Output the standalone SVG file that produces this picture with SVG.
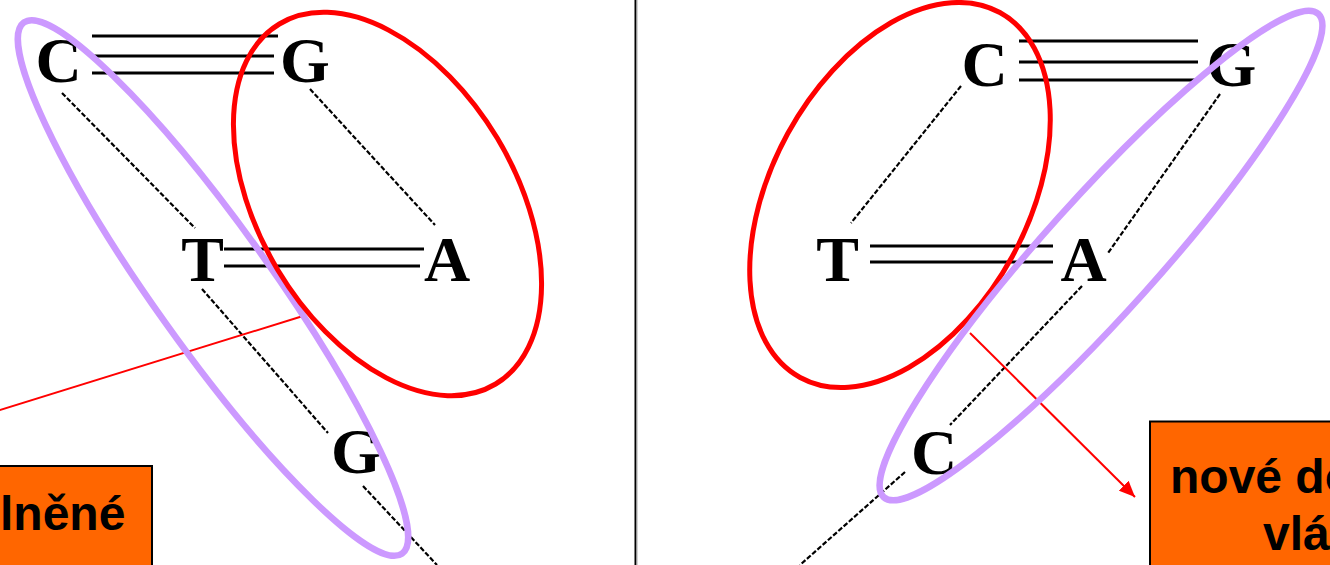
<svg xmlns="http://www.w3.org/2000/svg" width="1330" height="565" viewBox="0 0 1330 565">
<style>
.base{font-family:"Liberation Serif","Times New Roman",serif;font-weight:bold;font-size:64px;fill:#000;text-anchor:middle}
.bond{stroke:#000;stroke-width:3;fill:none}
.back{stroke:#000;stroke-width:2.2;stroke-dasharray:5 2;fill:none}
.pur{fill:none;stroke:#CC99FF;stroke-width:6.5}
.red{fill:none;stroke:#FF0000;stroke-width:5}
.ptr{stroke:#FF0000;stroke-width:2;fill:none}
.box{fill:#FF6600;stroke:#000;stroke-width:2}
.lbl{font-family:"Liberation Sans",Arial,sans-serif;font-weight:bold;font-size:48px;fill:#000}
</style>
<defs>
<marker id="ah" markerUnits="userSpaceOnUse" markerWidth="16" markerHeight="14" refX="16" refY="7" orient="auto">
<path d="M0,0 L16,7 L0,14 z" fill="#FF0000"/>
</marker>
</defs>
<rect x="0" y="0" width="1330" height="565" fill="#ffffff"/>
<g id="divider">
<line x1="635.5" y1="0" x2="635.5" y2="565" stroke="#000" stroke-width="2"/>
<line x1="637" y1="0" x2="637" y2="565" stroke="#aaa" stroke-width="1"/>
</g>
<g id="connectors">
<line class="bond" x1="92" y1="36" x2="278" y2="36"/>
<line class="bond" x1="92" y1="56" x2="274" y2="56"/>
<line class="bond" x1="92" y1="73" x2="274" y2="73"/>
<line class="bond" x1="224" y1="249" x2="424" y2="249"/>
<line class="bond" x1="224" y1="266" x2="420" y2="266"/>
<line class="back" x1="62" y1="93" x2="195" y2="228"/>
<line class="back" x1="202" y1="289" x2="328" y2="433"/>
<line class="back" x1="363" y1="486" x2="437" y2="565"/>
<line class="back" x1="310" y1="89" x2="435" y2="225"/>
<line class="bond" x1="1019" y1="41" x2="1198" y2="41"/>
<line class="bond" x1="1019" y1="62" x2="1198" y2="62"/>
<line class="bond" x1="1019" y1="80" x2="1195" y2="80"/>
<line class="bond" x1="870" y1="246" x2="1053" y2="246"/>
<line class="bond" x1="870" y1="262" x2="1053" y2="262"/>
<line class="back" x1="961" y1="86" x2="851" y2="223"/>
<line class="back" x1="1220" y1="94" x2="1108" y2="253"/>
<line class="back" x1="1082" y1="286" x2="950" y2="425"/>
<line class="back" x1="905" y1="472" x2="800" y2="565"/>
<line class="ptr" x1="303" y1="316" x2="-5" y2="411.5"/>
<line class="ptr" x1="970" y1="333" x2="1135" y2="497" marker-end="url(#ah)"/>
</g>
<g id="left-C"><text class="base" x="58.5" y="82">C</text></g>
<g id="left-G1"><text class="base" x="305" y="82">G</text></g>
<g id="left-T"><text class="base" x="202.5" y="281">T</text></g>
<g id="left-A"><text class="base" x="447" y="281">A</text></g>
<g id="left-G2"><text class="base" x="356" y="473">G</text></g>
<g id="right-C1"><text class="base" x="984.5" y="86">C</text></g>
<g id="right-G"><text class="base" x="1231.5" y="86">G</text></g>
<g id="right-T"><text class="base" x="837.5" y="281">T</text></g>
<g id="right-A"><text class="base" x="1083.5" y="281">A</text></g>
<g id="right-C2"><text class="base" x="934" y="474">C</text></g>
<g id="left-purple"><ellipse class="pur" cx="213" cy="288" rx="326" ry="59" transform="rotate(54.55 213 288)"/></g>
<g id="left-red"><ellipse class="red" cx="387.5" cy="204" rx="210" ry="128" transform="rotate(59 387.5 204)"/></g>
<g id="right-red"><ellipse class="red" cx="900" cy="195" rx="208" ry="128" transform="rotate(-61.3 900 195)"/></g>
<g id="right-purple"><ellipse class="pur" cx="1101" cy="255.5" rx="325" ry="57" transform="rotate(-48.06 1101 255.5)"/></g>
<g id="left-box">
<rect class="box" x="-5" y="466" width="157" height="110"/>
<text class="lbl" x="0" y="530">lněné</text>
</g>
<g id="right-box">
<rect class="box" x="1150" y="421.5" width="200" height="160"/>
<text class="lbl" x="1170" y="493">nové do</text>
<text class="lbl" x="1263" y="550">vlá</text>
</g>
</svg>
